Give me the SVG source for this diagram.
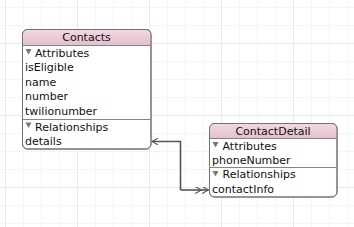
<svg xmlns="http://www.w3.org/2000/svg" width="354" height="227" viewBox="0 0 354 227">
<defs>
<linearGradient id="hdr" x1="0" y1="0" x2="0" y2="1">
<stop offset="0" stop-color="#f1d9e2"/>
<stop offset="1" stop-color="#e2bfcd"/>
</linearGradient>
<pattern id="minor" width="18" height="18" patternUnits="userSpaceOnUse" x="5" y="7">
<path d="M0 0.5H18M0.5 0V18" fill="none" stroke="#f5f5f5" stroke-width="1"/>
</pattern>
<pattern id="major" width="72" height="72" patternUnits="userSpaceOnUse" x="5" y="43">
<path d="M0 0.5H72M0.5 0V72" fill="none" stroke="#e9e9e9" stroke-width="1"/>
</pattern>
<marker id="arrow" viewBox="0 0 10 10" refX="9" refY="5" markerWidth="7" markerHeight="7" markerUnits="userSpaceOnUse" orient="auto">
<path d="M0 0L9 5L0 10" fill="none" stroke="#555" stroke-width="1.6"/>
</marker>
<marker id="darrow" viewBox="0 0 20 10" refX="19" refY="5" markerWidth="14" markerHeight="7" markerUnits="userSpaceOnUse" orient="auto">
<path d="M0 0L9 5L0 10M10 0L19 5L10 10" fill="none" stroke="#555" stroke-width="1.6"/>
</marker>
</defs>
<style>
text{font-family:"DejaVu Sans","Liberation Sans",sans-serif;font-size:11px;fill:#111}
.title{text-anchor:middle}
.box{fill:#fff;stroke:#7d6e75;stroke-width:1}
.sep{stroke:#858585;stroke-width:1}
.tri{fill:#777}
.conn{fill:none;stroke:#555;stroke-width:1.6}
</style>
<rect width="354" height="227" fill="#fff"/>
<rect width="354" height="227" fill="url(#minor)"/>
<rect width="354" height="227" fill="url(#major)"/>

<g id="Contacts">
<rect class="box" x="22.5" y="29.5" width="128.5" height="119.5" rx="5"/>
<path d="M23 45.5V34.5A5 5 0 0 1 28 30H145.5A5 5 0 0 1 150.5 34.5V45.5Z" fill="url(#hdr)"/>
<rect x="22.5" y="29.5" width="128.5" height="119.5" rx="5" fill="none" stroke="#7d6e75"/>
<line class="sep" x1="23" y1="45.5" x2="150.5" y2="45.5"/>
<text class="title" x="86.5" y="41">Contacts</text>
<path class="tri" d="M25.5 49H31.5L28.5 54.5Z"/>
<text x="35" y="57">Attributes</text>
<text x="25" y="71">isEligible</text>
<text x="25" y="85.5">name</text>
<text x="25" y="100">number</text>
<text x="25" y="114.5">twilionumber</text>
<line class="sep" x1="23" y1="119.5" x2="150.5" y2="119.5"/>
<path class="tri" d="M25.5 122.5H31.5L28.5 128Z"/>
<text x="35" y="130.5">Relationships</text>
<text x="25" y="144.5">details</text>
</g>

<g id="ContactDetail">
<rect class="box" x="209.5" y="123.5" width="127.5" height="73.5" rx="5"/>
<path d="M210 138.5V128.5A5 5 0 0 1 215 124H331.5A5 5 0 0 1 336.5 128.5V138.5Z" fill="url(#hdr)"/>
<rect x="209.5" y="123.5" width="127.5" height="73.5" rx="5" fill="none" stroke="#7d6e75"/>
<line class="sep" x1="210" y1="138.5" x2="336.5" y2="138.5"/>
<text class="title" x="273" y="134.5">ContactDetail</text>
<path class="tri" d="M212.5 142H218.5L215.5 147.5Z"/>
<text x="222.5" y="149.5">Attributes</text>
<text x="212" y="163.5">phoneNumber</text>
<line class="sep" x1="210" y1="167.5" x2="336.5" y2="167.5"/>
<path class="tri" d="M212.5 171H218.5L215.5 176.5Z"/>
<text x="222.5" y="178">Relationships</text>
<text x="212" y="192.5">contactInfo</text>
</g>

<g id="connectors">
<path class="conn" d="M180.5 190V141.5H152" marker-end="url(#arrow)"/>
<path class="conn" d="M180.5 190H208.5" marker-end="url(#darrow)"/>
</g>
</svg>
